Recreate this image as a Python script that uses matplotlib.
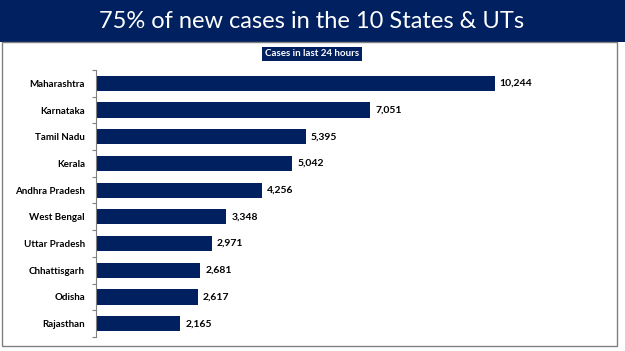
import matplotlib
matplotlib.use("Agg")
import matplotlib.pyplot as plt
from matplotlib.patches import Rectangle

states = ["Maharashtra", "Karnataka", "Tamil Nadu", "Kerala", "Andhra Pradesh",
          "West Bengal", "Uttar Pradesh", "Chhattisgarh", "Odisha", "Rajasthan"]
cases = [10244, 7051, 5395, 5042, 4256, 3348, 2971, 2681, 2617, 2165]

NAVY = "#002060"
W, H = 625, 351
fig = plt.figure(figsize=(W / 100, H / 100), dpi=100)
fig.patch.set_facecolor("white")

def fx(px):
    return px / W

def fy(py):
    return 1 - py / H

# title band
fig.patches.append(Rectangle((0, fy(42)), 1, 42 / H, transform=fig.transFigure,
                             facecolor=NAVY, edgecolor="none", zorder=0))
fig.text(fx(312), fy(21), "75% of new cases in the 10 States & UTs", color="white",
         fontsize=17, family="Lato", ha="center", va="center")
# frame
fig.patches.append(Rectangle((fx(2), fy(346)), fx(615), (346 - 42) / H,
                             transform=fig.transFigure, facecolor="none",
                             edgecolor="#808080", linewidth=1.0, zorder=0))
# subtitle box
fig.text(fx(312), fy(54), "Cases in last 24 hours", color="white", fontsize=7,
         fontweight="bold", family="Lato", ha="center", va="center",
         bbox=dict(boxstyle="square,pad=0.3", facecolor=NAVY, edgecolor="none"))

ax = fig.add_axes([fx(96), fy(337), fx(467), (337 - 70) / H])
y = list(range(len(states)))
bars = ax.barh(y, cases, height=0.57, color=NAVY)
ax.set_xlim(0, 12000)
ax.set_ylim(len(states) - 0.5, -0.5)
ax.set_yticks(y)
ax.set_yticklabels(states, fontsize=7, fontweight="bold", family="Lato")
ax.tick_params(axis="y", which="major", length=0, pad=8)
ax.set_yticks([i + 0.5 for i in range(-1, len(states))], minor=True)
ax.tick_params(axis="y", which="minor", length=3, width=0.8, color="#808080")
ax.set_xticks([])
for s in ["top", "right", "bottom"]:
    ax.spines[s].set_visible(False)
ax.spines["left"].set_color("#808080")
ax.spines["left"].set_linewidth(0.8)
for yi, v in zip(y, cases):
    ax.text(v + 130, yi, f"{v:,}", va="center", ha="left", fontsize=7.5,
            fontweight="bold", family="Lato", color="black")

fig.savefig("out.png", dpi=100)
